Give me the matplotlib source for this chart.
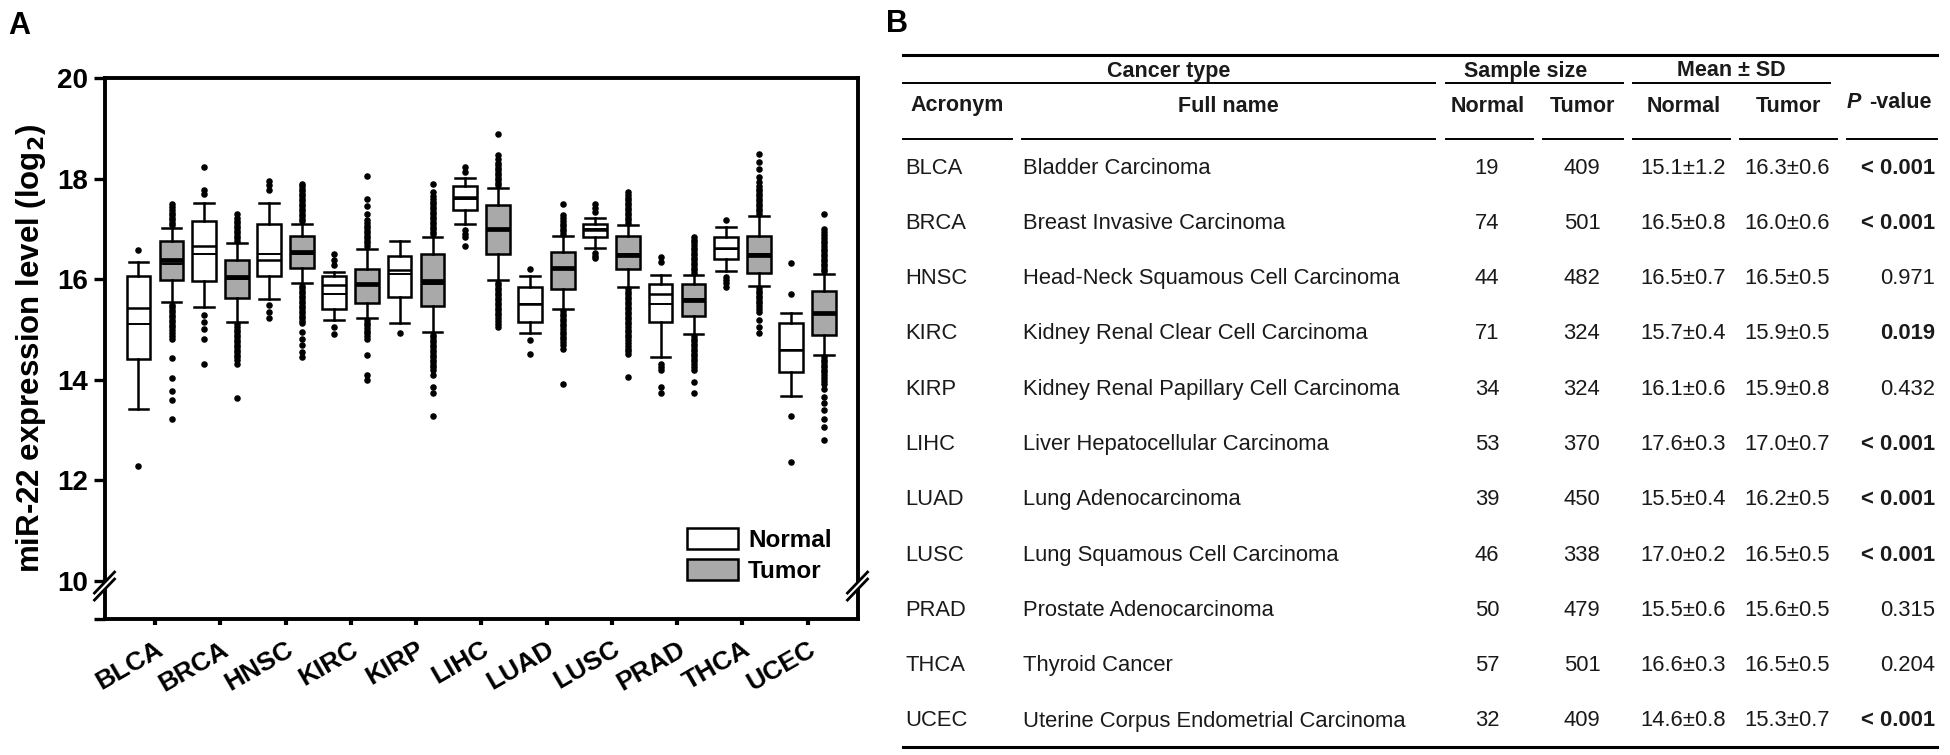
import matplotlib
matplotlib.use("Agg")
import matplotlib.pyplot as plt
from matplotlib.patches import Patch, Polygon

plt.rcParams['font.family'] = ['Liberation Sans', 'DejaVu Sans']

# ---------------- data (panel A) ----------------
categories = ["BLCA", "BRCA", "HNSC", "KIRC", "KIRP", "LIHC",
              "LUAD", "LUSC", "PRAD", "THCA", "UCEC"]

normal_q1 = [14.42, 15.96, 16.06, 15.41, 15.65, 17.38, 15.14, 16.84, 15.15, 16.41, 14.16]
normal_med = [15.43, 16.66, 16.38, 15.88, 16.18, 17.63, 15.51, 16.97, 15.71, 16.63, 14.60]
normal_q3 = [16.06, 17.16, 17.09, 16.06, 16.47, 17.85, 15.85, 17.10, 15.91, 16.83, 15.13]
normal_lo = [13.41, 15.45, 15.60, 15.18, 15.12, 17.10, 14.93, 16.63, 14.45, 16.16, 13.67]
normal_hi = [16.34, 17.52, 17.52, 16.14, 16.75, 18.01, 16.06, 17.22, 16.08, 17.04, 15.33]
normal_fliers = [
    [16.59, 12.28],
    [17.70, 17.77, 18.24, 15.28, 15.15, 15.02, 14.82, 14.32],
    [17.77, 17.87, 17.95, 15.48, 15.35, 15.22],
    [16.28, 16.38, 16.51, 15.05, 14.92],
    [14.94],
    [18.13, 18.23, 16.97, 16.90, 16.84, 16.67],
    [16.21, 14.79, 14.51],
    [17.34, 17.42, 17.49, 16.52, 16.47, 16.43],
    [16.34, 16.44, 14.32, 14.26, 14.20, 13.86, 13.73],
    [17.18, 16.04, 15.98, 15.92, 15.85],
    [15.71, 16.32, 13.29, 12.37],
]

tumor_q1 = [15.98, 15.63, 16.23, 15.53, 15.47, 16.51, 15.81, 16.21, 15.27, 16.12, 14.90]
tumor_med = [16.38, 16.05, 16.54, 15.90, 15.96, 16.99, 16.23, 16.49, 15.58, 16.49, 15.33]
tumor_q3 = [16.75, 16.39, 16.85, 16.21, 16.51, 17.47, 16.55, 16.85, 15.90, 16.85, 15.77]
tumor_lo = [15.54, 15.15, 15.92, 15.23, 14.95, 15.98, 15.41, 15.85, 14.92, 15.87, 14.50]
tumor_hi = [17.02, 16.71, 17.10, 16.61, 16.84, 17.82, 16.85, 17.07, 16.08, 17.25, 16.11]
tumor_fliers = [
    [17.07, 17.12, 17.17, 17.22, 17.27, 17.32, 17.37, 17.43, 17.49,
     15.49, 15.44, 15.39, 15.34, 15.29, 15.24, 15.19, 15.14, 15.09, 15.04, 14.99,
     14.94, 14.88, 14.82, 14.43, 14.04, 13.78, 13.60, 13.22],
    [16.76, 16.81, 16.86, 16.91, 16.96, 17.01, 17.06, 17.11, 17.16, 17.21, 17.29,
     15.10, 15.05, 15.00, 14.95, 14.90, 14.85, 14.80, 14.75, 14.70, 14.65, 14.60,
     14.55, 14.50, 14.45, 14.39, 14.32, 13.63],
    [17.15, 17.20, 17.25, 17.30, 17.35, 17.40, 17.45, 17.50, 17.55, 17.60, 17.65,
     17.70, 17.75, 17.80, 17.85, 17.90,
     15.87, 15.82, 15.77, 15.72, 15.67, 15.62, 15.57, 15.52, 15.47, 15.42, 15.37,
     15.32, 15.27, 15.22, 15.17, 15.12, 14.95, 14.82, 14.69, 14.55, 14.45],
    [16.66, 16.71, 16.76, 16.81, 16.86, 16.91, 16.96, 17.01, 17.06, 17.11, 17.17,
     17.30, 17.45, 17.60, 18.05,
     15.18, 15.13, 15.08, 15.03, 14.98, 14.93, 14.88, 14.82, 14.49, 14.09, 13.99],
    [16.89, 16.94, 16.99, 17.04, 17.09, 17.14, 17.19, 17.24, 17.29, 17.34, 17.39,
     17.44, 17.49, 17.54, 17.59, 17.65, 17.73, 17.90,
     14.90, 14.85, 14.80, 14.75, 14.70, 14.65, 14.60, 14.55, 14.50, 14.45, 14.40,
     14.35, 14.30, 14.25, 14.19, 14.09, 13.86, 13.73, 13.29],
    [17.87, 17.92, 17.97, 18.02, 18.07, 18.12, 18.17, 18.22, 18.27, 18.32, 18.38,
     18.46, 18.88,
     15.93, 15.88, 15.83, 15.78, 15.73, 15.68, 15.63, 15.58, 15.53, 15.48, 15.43,
     15.38, 15.33, 15.28, 15.23, 15.17, 15.11, 15.05],
    [16.90, 16.95, 17.00, 17.05, 17.10, 17.15, 17.21, 17.27, 17.50,
     15.36, 15.31, 15.26, 15.21, 15.16, 15.11, 15.06, 15.01, 14.96, 14.91, 14.86,
     14.81, 14.76, 14.70, 14.62, 13.91],
    [17.12, 17.17, 17.22, 17.27, 17.32, 17.37, 17.42, 17.47, 17.52, 17.57, 17.62,
     17.67, 17.73,
     15.80, 15.75, 15.70, 15.65, 15.60, 15.55, 15.50, 15.45, 15.40, 15.35, 15.30,
     15.25, 15.20, 15.15, 15.10, 15.05, 15.00, 14.95, 14.90, 14.85, 14.80, 14.74,
     14.68, 14.62, 14.57, 14.52, 14.06],
    [16.13, 16.18, 16.23, 16.28, 16.33, 16.38, 16.43, 16.48, 16.53, 16.58, 16.63,
     16.68, 16.73, 16.78, 16.83,
     14.87, 14.82, 14.77, 14.72, 14.67, 14.62, 14.57, 14.52, 14.47, 14.42, 14.37,
     14.31, 14.25, 14.19, 13.96, 13.74],
    [17.30, 17.35, 17.40, 17.45, 17.50, 17.55, 17.60, 17.65, 17.70, 17.75, 17.80,
     17.86, 17.93, 18.03, 18.20, 18.33, 18.48,
     15.82, 15.77, 15.72, 15.67, 15.62, 15.57, 15.52, 15.47, 15.41, 15.35, 15.18,
     15.05, 14.93],
    [16.16, 16.21, 16.26, 16.31, 16.36, 16.41, 16.46, 16.51, 16.56, 16.61, 16.66,
     16.71, 16.76, 16.81, 16.87, 16.93, 17.00, 17.30,
     14.45, 14.40, 14.35, 14.30, 14.25, 14.20, 14.15, 14.10, 14.04, 13.98, 13.92,
     13.82, 13.66, 13.53, 13.39, 13.23, 13.06, 12.80],
]

y_ticks = [10, 12, 14, 16, 18, 20]
legend_labels = ["Normal", "Tumor"]

# ---------------- data (panel B) ----------------
full_names = ["Bladder Carcinoma", "Breast Invasive Carcinoma",
              "Head-Neck Squamous Cell Carcinoma", "Kidney Renal Clear Cell Carcinoma",
              "Kidney Renal Papillary Cell Carcinoma", "Liver Hepatocellular Carcinoma",
              "Lung Adenocarcinoma", "Lung Squamous Cell Carcinoma",
              "Prostate Adenocarcinoma", "Thyroid Cancer",
              "Uterine Corpus Endometrial Carcinoma"]
n_normal = [19, 74, 44, 71, 34, 53, 39, 46, 50, 57, 32]
n_tumor = [409, 501, 482, 324, 324, 370, 450, 338, 479, 501, 409]
mean_normal = [15.1, 16.5, 16.5, 15.7, 16.1, 17.6, 15.5, 17.0, 15.5, 16.6, 14.6]
sd_normal = [1.2, 0.8, 0.7, 0.4, 0.6, 0.3, 0.4, 0.2, 0.6, 0.3, 0.8]
mean_tumor = [16.3, 16.0, 16.5, 15.9, 15.9, 17.0, 16.2, 16.5, 15.6, 16.5, 15.3]
sd_tumor = [0.6, 0.6, 0.5, 0.5, 0.8, 0.7, 0.5, 0.5, 0.5, 0.5, 0.7]
p_values = ["< 0.001", "< 0.001", "0.971", "0.019", "0.432", "< 0.001",
            "< 0.001", "< 0.001", "0.315", "0.204", "< 0.001"]
p_significant = [True, True, False, True, False, True, True, True, False, False, True]

# ---------------- figure ----------------
W, H = 1950, 755
fig = plt.figure(figsize=(W / 100, H / 100), dpi=100)
ax = fig.add_axes([104.5 / W, 1 - 619 / H, (857.5 - 104.5) / W, (619 - 78) / H])

TUMOR_GRAY = "#a9a9a9"
n = len(categories)
pos_normal = [i - 0.253 for i in range(n)]
pos_tumor = [i + 0.253 for i in range(n)]


def make_stats(q1, med, q3, lo, hi, mean, fliers):
    return [dict(q1=q1[i], med=med[i], q3=q3[i], whislo=lo[i], whishi=hi[i],
                 mean=mean[i], fliers=fliers[i]) for i in range(len(q1))]


common = dict(widths=0.365, patch_artist=True, showmeans=True, meanline=True,
              whiskerprops=dict(color="black", linewidth=1.8),
              capprops=dict(color="black", linewidth=1.8),
              meanprops=dict(color="black", linestyle="-", linewidth=1.4),
              flierprops=dict(marker="o", markerfacecolor="black",
                              markeredgecolor="black", markersize=3.7),
              capwidths=0.3)

ax.bxp(make_stats(normal_q1, normal_med, normal_q3, normal_lo, normal_hi,
                  mean_normal, normal_fliers),
       positions=pos_normal,
       boxprops=dict(facecolor="white", edgecolor="black", linewidth=1.8),
       medianprops=dict(color="black", linewidth=1.8), **common)
ax.bxp(make_stats(tumor_q1, tumor_med, tumor_q3, tumor_lo, tumor_hi,
                  mean_tumor, tumor_fliers),
       positions=pos_tumor,
       boxprops=dict(facecolor=TUMOR_GRAY, edgecolor="black", linewidth=1.8),
       medianprops=dict(color="black", linewidth=3.4), **common)

ax.set_xlim(-0.774, 10.766)
ax.set_ylim(9.245, 20.0)
ax.set_xticks(range(n))
ax.set_xticklabels(categories, rotation=30, ha="right", rotation_mode="anchor",
                   fontsize=19, fontweight="bold")
ax.set_yticks([9.245] + y_ticks)
ax.set_yticklabels([""] + [str(t) for t in y_ticks], fontsize=20, fontweight="bold")
ax.tick_params(axis="y", direction="out", length=8, width=2.4, pad=4)
ax.tick_params(axis="x", direction="out", length=4, width=3, pad=9)
for s in ax.spines.values():
    s.set_linewidth(2.8)
ax.set_ylabel("miR-22 expression level (log$_\\mathbf{2}$)", fontsize=22.5,
              fontweight="bold", labelpad=6)

leg = ax.legend(handles=[Patch(facecolor="white", edgecolor="black", linewidth=1.8),
                         Patch(facecolor=TUMOR_GRAY, edgecolor="black", linewidth=1.8)],
                labels=legend_labels, loc="lower right", bbox_to_anchor=(0.982, 0.044),
                frameon=False, borderpad=0, handlelength=2.1, handleheight=0.95,
                handletextpad=0.4, labelspacing=0.3,
                prop=dict(size=17.5, weight="bold"))

# ---------------- overlay in pixel coordinates ----------------
tx = fig.add_axes([0, 0, 1, 1])
tx.set_xlim(0, W)
tx.set_ylim(H, 0)
tx.axis("off")

# axis-break marks on both vertical spines
fig.canvas.draw()
for xa in (0.0, 1.0):
    dx, dy = ax.transAxes.transform((xa, 0))[0], ax.transData.transform((0, 9.9))[1]
    px, py = dx, H - dy
    gap = 3.5
    poly = Polygon([(px - 10, py + 10.5 - gap), (px + 10, py - 10.5 - gap),
                    (px + 10, py - 10.5 + gap), (px - 10, py + 10.5 + gap)],
                   closed=True, facecolor="white", edgecolor="none", zorder=5)
    tx.add_patch(poly)
    for s in (-gap, gap):
        tx.plot([px - 11, px + 11], [py + 11.5 + s, py - 11.5 + s], color="black",
                linewidth=2.0, zorder=6, solid_capstyle="butt")

# panel labels
tx.text(19, 26, "A", fontsize=22, fontweight="bold", ha="center", va="center")
tx.text(897, 24, "B", fontsize=22, fontweight="bold", ha="center", va="center")

# table rules
TXT = "#1a1a1a"
tx.plot([903, 1937], [55, 55], color="black", linewidth=2.2)
tx.plot([903, 1937], [747, 747], color="black", linewidth=2.2)
for x0, x1 in [(903, 1435), (1446, 1623), (1633, 1830)]:
    tx.plot([x0, x1], [83, 83], color="black", linewidth=1.4)
for x0, x1 in [(903, 1012), (1022, 1435), (1446, 1533), (1543, 1623),
               (1633, 1730), (1740, 1837), (1847, 1937)]:
    tx.plot([x0, x1], [139, 139], color="black", linewidth=1.4)

hdr = dict(fontsize=15.5, fontweight="bold", va="center", color=TXT)
tx.text(1169, 71, "Cancer type", ha="center", **hdr)
tx.text(1526, 71, "Sample size", ha="center", **hdr)
tx.text(1731, 71, "Mean ± SD", ha="center", **hdr)
tx.text(957, 106, "Acronym", ha="center", **hdr)
tx.text(1228, 106, "Full name", ha="center", **hdr)
tx.text(1488, 106, "Normal", ha="center", **hdr)
tx.text(1582, 106, "Tumor", ha="center", **hdr)
tx.text(1684, 106, "Normal", ha="center", **hdr)
tx.text(1788, 106, "Tumor", ha="center", **hdr)
tx.text(1847, 103, "P", ha="left", style="italic", **hdr)
tx.text(1869, 103, "-value", ha="left", **hdr)

cell = dict(fontsize=15.8, va="center", color=TXT)
for i in range(n):
    y = 168 + 55.3 * i
    tx.text(905, y, categories[i], ha="left", **cell)
    tx.text(1023, y, full_names[i], ha="left", **cell)
    tx.text(1487, y, str(n_normal[i]), ha="center", **cell)
    tx.text(1582, y, str(n_tumor[i]), ha="center", **cell)
    tx.text(1683, y, f"{mean_normal[i]:.1f}±{sd_normal[i]:.1f}", ha="center", **cell)
    tx.text(1787, y, f"{mean_tumor[i]:.1f}±{sd_tumor[i]:.1f}", ha="center", **cell)
    tx.text(1935, y, p_values[i], ha="right",
            fontweight="bold" if p_significant[i] else "normal", **cell)

fig.savefig("out.png", dpi=100)
